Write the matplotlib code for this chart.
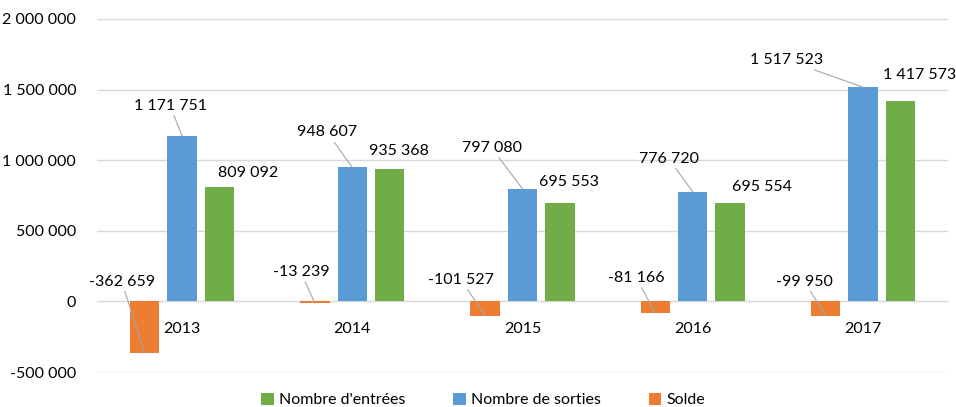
import matplotlib.pyplot as plt
import numpy as np

# data
years = ['2013', '2014', '2015', '2016', '2017']
entrees = [809092, 935368, 695553, 695554, 1417573]
sorties = [1171751, 948607, 797080, 776720, 1517523]
solde = [-362659, -13239, -101527, -81166, -99950]

# label offsets in pixels (dx, dy) from the bar end
off_entrees = [(29, 14), (9, 18), (9, 21), (32, 16), (19, 26)]
off_sorties = [(-12, 30), (-25, 35), (-31, 41), (-24, 33), (-76, 27)]
off_solde = [(-23, 71), (-14, 31), (-24, 36), (-19, 35), (-21, 34)]

C_ENT = '#70AD47'
C_SOR = '#5B9BD5'
C_SOL = '#ED7D31'

plt.rcParams['font.family'] = ['Lato', 'DejaVu Sans']
FS = 11.5


def fmt(v):
    s = f'{abs(int(v)):,}'.replace(',', ' ')
    return ('-' if v < 0 else '') + s


fig = plt.figure(figsize=(9.56, 4.07), dpi=100)
ax = fig.add_axes([97 / 956, 1 - 372 / 407, 851 / 956, 353 / 407])

# axis line at zero (must come before tick styling, it resets ticks)
for s in ['top', 'right', 'left']:
    ax.spines[s].set_visible(False)
ax.spines['bottom'].set_position(('data', 0))
ax.spines['bottom'].set_color('#d9d9d9')
ax.spines['bottom'].set_zorder(1)

x = np.arange(len(years))
w = 0.173
step = 0.22

b_sol = ax.bar(x - step, solde, w, color=C_SOL, label='Solde', zorder=3)
b_sor = ax.bar(x, sorties, w, color=C_SOR, label='Nombre de sorties', zorder=3)
b_ent = ax.bar(x + step, entrees, w, color=C_ENT, label="Nombre d'entrées", zorder=3)

leader = dict(arrowstyle='-', color='#a6a6a6', lw=0.8, shrinkA=0, shrinkB=0)

for i in range(len(years)):
    ax.annotate(fmt(entrees[i]), xy=(x[i] + step, entrees[i]), xytext=off_entrees[i],
                textcoords='offset pixels', ha='center', va='center', fontsize=FS)
    ax.annotate(fmt(sorties[i]), xy=(x[i], sorties[i]), xytext=off_sorties[i],
                textcoords='offset pixels', ha='center', va='center', fontsize=FS,
                arrowprops=leader)
    ax.annotate(fmt(solde[i]), xy=(x[i] - step, solde[i]), xytext=off_solde[i],
                textcoords='offset pixels', ha='center', va='center', fontsize=FS,
                arrowprops=leader)

ax.set_xlim(-0.5, len(years) - 0.5)
ax.set_ylim(-500000, 2000000)
yt = np.arange(-500000, 2000001, 500000)
ax.set_yticks(yt)
ax.set_yticklabels([fmt(v) for v in yt])
ax.set_xticks(x)
ax.set_xticklabels(years)
ax.tick_params(axis='both', length=0, labelsize=FS)
ax.tick_params(axis='y', pad=15)
ax.tick_params(axis='x', pad=14.5)

ax.grid(axis='y', color='#d9d9d9', lw=1, zorder=0)

handles = [b_ent, b_sor, b_sol]
fig.legend(handles, [h.get_label() for h in handles], loc='center',
           bbox_to_anchor=(483 / 956, 1 - 400 / 407), ncol=3, frameon=False,
           fontsize=FS, handlelength=0.8, handleheight=0.8, handletextpad=0.3,
           columnspacing=3.0)

fig.savefig('out.png', dpi=100)
